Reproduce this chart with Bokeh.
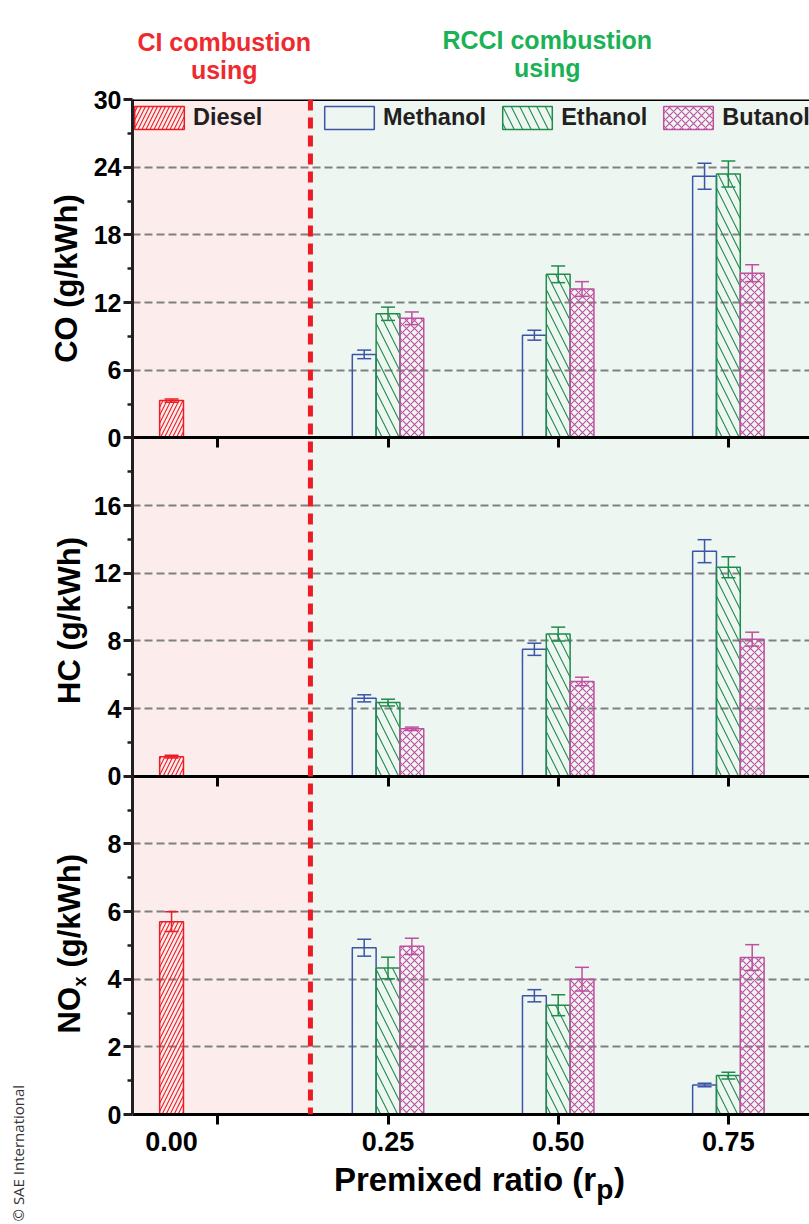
import math
from bokeh.plotting import figure
from bokeh.layouts import row, column
from bokeh.core.properties import value
from bokeh.models import (Range1d, LinearAxis, FixedTicker, Span, BoxAnnotation,
                          Legend, LegendItem, Whisker, TeeHead, ColumnDataSource)
from bokeh.embed import file_html
from bokeh.resources import INLINE

# ---------------- data ----------------
RP = [0.25, 0.50, 0.75]            # premixed ratio of the RCCI points
DIESEL_RP = [0.0]                  # CI combustion point
FUELS = ["Methanol", "Ethanol", "Butanol"]

CO_DIESEL = [3.3]
CO_DIESEL_ERR = [0.15]
CO_METHANOL = [7.4, 9.1, 23.2]
CO_METHANOL_ERR = [0.38, 0.44, 1.15]
CO_ETHANOL = [11.0, 14.5, 23.4]
CO_ETHANOL_ERR = [0.59, 0.74, 1.15]
CO_BUTANOL = [10.6, 13.2, 14.6]
CO_BUTANOL_ERR = [0.56, 0.65, 0.75]

HC_DIESEL = [1.15]
HC_DIESEL_ERR = [0.08]
HC_METHANOL = [4.6, 7.5, 13.3]
HC_METHANOL_ERR = [0.21, 0.36, 0.68]
HC_ETHANOL = [4.35, 8.4, 12.35]
HC_ETHANOL_ERR = [0.2, 0.41, 0.62]
HC_BUTANOL = [2.8, 5.6, 8.1]
HC_BUTANOL_ERR = [0.1, 0.25, 0.41]

NOX_DIESEL = [5.7]
NOX_DIESEL_ERR = [0.29]
NOX_METHANOL = [4.93, 3.51, 0.87]
NOX_METHANOL_ERR = [0.25, 0.18, 0.05]
NOX_ETHANOL = [4.33, 3.23, 1.15]
NOX_ETHANOL_ERR = [0.32, 0.31, 0.1]
NOX_BUTANOL = [4.97, 4.0, 4.64]
NOX_BUTANOL_ERR = [0.24, 0.35, 0.38]

CO_TICKS = [0, 6, 12, 18, 24, 30]
CO_MINOR = [3, 9, 15, 21, 27]
HC_TICKS = [0, 4, 8, 12, 16]
HC_MINOR = [2, 6, 10, 14, 18]
NOX_TICKS = [0, 2, 4, 6, 8]
NOX_MINOR = [1, 3, 5, 7, 9]
X_TICKS = [0.25, 0.50, 0.75]
X_TICK_LABELS = ["0.25", "0.50", "0.75"]
X_DIESEL_TICK_LABEL = "0.00"

# ---------------- style / layout ----------------
FONT = "Liberation Sans"
INK = "#231f20"
RED = "#ed1c24"
BLUE = "#3b54a8"
GREEN = "#1f8c4b"
MAGENTA = "#bf4fa0"
PINK_BG = "#fdecec"
GREEN_BG = "#eef6f2"
GRID = "#808080"

LEFT_W = 90
RIGHT_W = 809 - LEFT_W
AXIS_W = 40                      # room for the left axis inside the main figure
FRAME_L = LEFT_W + AXIS_W        # page x of the plotting frame (column frames align)
HEAD_H = 84
MAIN_TOP = 15
MAIN_H = MAIN_TOP + 1015 + 46
FOOT_H = 1224 - HEAD_H - MAIN_H

X0 = -0.1254
X1 = X0 + (RIGHT_W - AXIS_W) / 682.7
SEPARATOR = 0.136
DIESEL_SHIFT = -0.068
BAR_W = 0.035
OFFSETS = [-0.035, 0.0, 0.035]
FUEL_COLORS = [BLUE, GREEN, MAGENTA]
FUEL_HATCH = [None, "\\", "x"]
FUEL_HATCH_SCALE = [12, 17, 8]
BAND = 60  # virtual units per panel
EM_MID = 0.3465  # text anchors sit at the em-box middle


def blank(width, height, xr, yr):
    f = figure(width=width, height=height, x_range=Range1d(*xr), y_range=Range1d(*yr),
               output_backend="svg", toolbar_location=None, min_border=0,
               x_axis_location=None, y_axis_location=None, outline_line_color=None,
               background_fill_color="white", border_fill_color="white")
    f.grid.visible = False
    return f


def txt(f, x, y, s, size, color="black", align="left", angle=0.0, style="bold",
        font=FONT):
    """(x, y) is the baseline point in page pixels."""
    off = EM_MID * size
    if angle:
        x = x - off
    else:
        y = y - off
    f.text(x=[x], y=[y], text=[s], text_font=value(font), text_font_style=style,
           text_font_size=value(f"{size}px"), text_color=color, text_align=align,
           text_baseline="alphabetic", angle=angle)


# ---------------- main figure ----------------
p = figure(width=RIGHT_W, height=MAIN_H, x_range=Range1d(X0, X1), y_range=Range1d(0, 3 * BAND),
           output_backend="svg", toolbar_location=None,
           min_border_left=AXIS_W, min_border_right=0, min_border_top=MAIN_TOP,
           min_border_bottom=46,
           outline_line_color=None, background_fill_color=GREEN_BG, border_fill_color="white")

p.add_layout(BoxAnnotation(right=SEPARATOR, fill_color=PINK_BG, fill_alpha=1.0,
                           line_alpha=0, level="image"))

panels = [
    dict(name="nox", k=0, ymax=10, ticks=NOX_TICKS, minor=NOX_MINOR,
         diesel=NOX_DIESEL, diesel_err=NOX_DIESEL_ERR,
         series=[NOX_METHANOL, NOX_ETHANOL, NOX_BUTANOL],
         errs=[NOX_METHANOL_ERR, NOX_ETHANOL_ERR, NOX_BUTANOL_ERR]),
    dict(name="hc", k=1, ymax=20, ticks=HC_TICKS, minor=HC_MINOR,
         diesel=HC_DIESEL, diesel_err=HC_DIESEL_ERR,
         series=[HC_METHANOL, HC_ETHANOL, HC_BUTANOL],
         errs=[HC_METHANOL_ERR, HC_ETHANOL_ERR, HC_BUTANOL_ERR]),
    dict(name="co", k=2, ymax=30, ticks=CO_TICKS, minor=CO_MINOR,
         diesel=CO_DIESEL, diesel_err=CO_DIESEL_ERR,
         series=[CO_METHANOL, CO_ETHANOL, CO_BUTANOL],
         errs=[CO_METHANOL_ERR, CO_ETHANOL_ERR, CO_BUTANOL_ERR]),
]

major, minor, grid, overrides = [], [], [], {}
legend_renderers = {}


def whisker(xs, tops, errs, color, rname):
    src = ColumnDataSource(dict(x=xs, upper=[t + e for t, e in zip(tops, errs)],
                                lower=[t - e for t, e in zip(tops, errs)]))
    w = Whisker(source=src, base="x", upper="upper", lower="lower", dimension="height",
                line_color=color, line_width=1.5, y_range_name=rname,
                upper_head=TeeHead(size=14, line_color=color, line_width=1.5),
                lower_head=TeeHead(size=14, line_color=color, line_width=1.5))
    p.add_layout(w)


for pn in panels:
    k, M, name = pn["k"], pn["ymax"], pn["name"]
    p.extra_y_ranges[name] = Range1d(-k * M, (3 - k) * M)

    def to_v(v, k=k, M=M):
        return int(round(k * BAND + v * BAND / M))

    for t in pn["ticks"]:
        major.append(to_v(t))
        overrides[to_v(t)] = str(t)
        if 0 < t < M:
            grid.append(to_v(t))
    for t in pn["minor"]:
        minor.append(to_v(t))

    dx = [r + DIESEL_SHIFT for r in DIESEL_RP]
    rd = p.vbar(x=dx, top=pn["diesel"], width=BAR_W, bottom=0, y_range_name=name,
                fill_alpha=0, line_color=RED, line_width=1.5,
                hatch_pattern="/", hatch_color=RED, hatch_scale=8, hatch_weight=1.1)
    whisker(dx, pn["diesel"], pn["diesel_err"], RED, name)
    if k == 2:
        legend_renderers["Diesel"] = rd
    for i, fuel in enumerate(FUELS):
        xs = [r + OFFSETS[i] for r in RP]
        kw = dict(x=xs, top=pn["series"][i], width=BAR_W, bottom=0, y_range_name=name,
                  fill_alpha=0, line_color=FUEL_COLORS[i], line_width=1.5)
        if FUEL_HATCH[i]:
            kw.update(hatch_pattern=FUEL_HATCH[i], hatch_color=FUEL_COLORS[i],
                      hatch_scale=FUEL_HATCH_SCALE[i], hatch_weight=1.1)
        r = p.vbar(**kw)
        whisker(xs, pn["series"][i], pn["errs"][i], FUEL_COLORS[i], name)
        if k == 2:
            legend_renderers[fuel] = r

# top value of the CO panel closes the axis
major.append(3 * BAND)
overrides[3 * BAND] = str(CO_TICKS[-1])

# grid
p.xgrid.visible = False
p.ygrid.ticker = FixedTicker(ticks=sorted(grid))
p.ygrid.grid_line_color = GRID
p.ygrid.grid_line_dash = "8 4"
p.ygrid.grid_line_width = 2

# left axis
ya = p.yaxis[0]
ya.ticker = FixedTicker(ticks=sorted(set(major)), minor_ticks=sorted(minor))
ya.major_label_overrides = overrides
ya.axis_line_width = 3
ya.axis_line_color = INK
ya.major_tick_in = 0
ya.major_tick_out = 9
ya.major_tick_line_width = 3
ya.major_tick_line_color = INK
ya.minor_tick_in = 0
ya.minor_tick_out = 5
ya.minor_tick_line_width = 2.5
ya.minor_tick_line_color = INK
ya.major_label_text_font = FONT
ya.major_label_text_font_style = "bold"
ya.major_label_text_font_size = "25px"
ya.major_label_text_color = "black"
ya.major_label_standoff = 2

# bottom axis: labels under the bar groups, tick marks at the premixed ratios
diesel_x = DIESEL_RP[0] + DIESEL_SHIFT
xa = p.xaxis[0]
xa.ticker = FixedTicker(ticks=[diesel_x] + X_TICKS, minor_ticks=DIESEL_RP + X_TICKS)
xa.major_label_overrides = {diesel_x: X_DIESEL_TICK_LABEL,
                            **{t: s for t, s in zip(X_TICKS, X_TICK_LABELS)}}
xa.axis_line_width = 3
xa.axis_line_color = "black"
xa.major_tick_in = 0
xa.major_tick_out = 0
xa.minor_tick_in = 0
xa.minor_tick_out = 10
xa.minor_tick_line_width = 3
xa.minor_tick_line_color = "black"
xa.major_label_text_font = FONT
xa.major_label_text_font_style = "bold"
xa.major_label_text_font_size = "27px"
xa.major_label_text_color = "black"
xa.major_label_standoff = 7

# panel boundaries: axis lines with ticks pointing down into the lower panel
for loc in [BAND, 2 * BAND]:
    ax = LinearAxis(ticker=FixedTicker(ticks=[], minor_ticks=DIESEL_RP + X_TICKS),
                    fixed_location=loc, axis_line_width=3, axis_line_color="black",
                    major_tick_in=0, major_tick_out=0, major_label_standoff=0,
                    minor_tick_in=10, minor_tick_out=0, minor_tick_line_width=3,
                    minor_tick_line_color="black")
    p.add_layout(ax, "above")

p.add_layout(Span(location=3 * BAND, dimension="width", line_color="black", line_width=3))
p.add_layout(Span(location=SEPARATOR, dimension="height", line_color=RED, line_width=5,
                  line_dash="11 7"))

# legends
lab = dict(label_text_font=FONT, label_text_font_style="bold", label_text_font_size="23.5px",
           label_text_color=INK, glyph_width=62, glyph_height=29, label_standoff=3,
           spacing=10, padding=0, margin=0, orientation="horizontal",
           background_fill_alpha=0, border_line_alpha=0)
leg1 = Legend(items=[LegendItem(label="Diesel", renderers=[legend_renderers["Diesel"]])],
              location=(-4, 982), **lab)
leg2 = Legend(items=[LegendItem(label=f, renderers=[legend_renderers[f]]) for f in FUELS],
              location=(186, 982), **lab)
p.add_layout(leg1)
p.add_layout(leg2)

# ---------------- header (page pixel coordinates) ----------------
head = blank(RIGHT_W, HEAD_H, (FRAME_L, 809), (HEAD_H, 0))
txt(head, 222, 50, "CI combustion", 25, "#ee2a2f", "center")
txt(head, 222, 78, "using", 25, "#ee2a2f", "center")
txt(head, 546, 48, "RCCI combustion", 25, "#1bb156", "center")
txt(head, 546, 76, "using", 25, "#1bb156", "center")

# ---------------- footer: x title ----------------
y_top = HEAD_H + MAIN_H
foot = blank(RIGHT_W, FOOT_H, (FRAME_L, 809), (1224, y_top))
txt(foot, 332, 1190, "Premixed ratio (r", 33)
txt(foot, 595, 1199, "p", 28)
txt(foot, 613, 1190, ")", 33)

# ---------------- left strip: y titles ----------------
left = blank(LEFT_W, 1224, (0, LEFT_W), (1224, 0))
A = math.pi / 2
txt(left, 77, 278, "CO (g/kWh)", 31, align="center", angle=A)
txt(left, 80, 620, "HC (g/kWh)", 31, align="center", angle=A)
txt(left, 80, 1033, "NO", 31, angle=A)
txt(left, 86, 986, "x", 18, angle=A)
txt(left, 80, 967, "(g/kWh)", 31, angle=A)
txt(left, 23, 1221, "\u00a9 SAE International", 15, "#333333", angle=A,
    style="normal", font="Open Sans")

layout = row(left, column(head, p, foot))
open("out.html", "w").write(file_html(layout, INLINE))
